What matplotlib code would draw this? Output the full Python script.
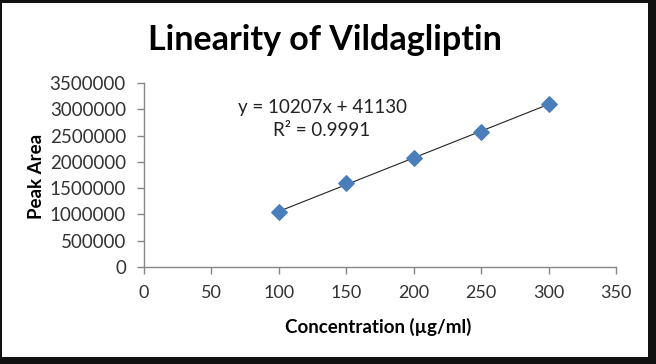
import matplotlib
matplotlib.use("Agg")
import matplotlib.pyplot as plt
import numpy as np
from matplotlib.patches import Rectangle

W, H = 656, 364

concentration = [100, 150, 200, 250, 300]
peak_area = [1040000, 1600000, 2070000, 2570000, 3100000]
x_ticks = [0, 50, 100, 150, 200, 250, 300, 350]
y_ticks = [0, 500000, 1000000, 1500000, 2000000, 2500000, 3000000, 3500000]
equation = "y = 10207x + 41130"
r_squared = "R² = 0.9991"

FONT = "Lato"
AXIS_GRAY = "#868686"
MARKER_BLUE = "#4a7ebb"

fig = plt.figure(figsize=(W / 100, H / 100), dpi=100)
fig.patch.set_facecolor("#111111")
fig.patches.append(Rectangle((2 / W, 7 / H), 646 / W, 354 / H,
                             transform=fig.transFigure, facecolor="white",
                             edgecolor="none", zorder=-5))

ax = fig.add_axes([144 / W, 97 / H, 472 / W, 184 / H])
ax.set_facecolor("none")
ax.set_zorder(2)

ax.scatter(concentration, peak_area, marker="D", s=62, color=MARKER_BLUE,
           edgecolors=MARKER_BLUE, zorder=3)

# linear trendline over the measured range
slope, intercept = np.polyfit(concentration, peak_area, 1)
xs = np.array([concentration[0], concentration[-1]])
ax.plot(xs, slope * xs + intercept, color="#222222", linewidth=0.8, zorder=2)

ax.set_xlim(0, 350)
ax.set_ylim(0, 3500000)
ax.set_xticks(x_ticks)
ax.set_yticks(y_ticks)
ax.set_xticklabels([str(v) for v in x_ticks], fontfamily=FONT, fontsize=13,
                   color="#333333")
ax.set_yticklabels([str(v) for v in y_ticks], fontfamily=FONT, fontsize=13.5,
                   color="#333333")

for side in ("top", "right"):
    ax.spines[side].set_visible(False)
for side in ("left", "bottom"):
    ax.spines[side].set_color(AXIS_GRAY)
    ax.spines[side].set_linewidth(1.0)
ax.tick_params(axis="both", direction="out", length=5, width=1.0,
               color=AXIS_GRAY)
ax.tick_params(axis="x", pad=8)
ax.tick_params(axis="y", pad=8)

fig.text(378 / W, 1 - 327 / H, "Concentration (µg/ml)", fontfamily=FONT,
         fontsize=13.5, fontweight="bold", ha="center", va="center", zorder=3)
fig.text(36 / W, 1 - 176 / H, "Peak Area", fontfamily=FONT, rotation=90,
         fontsize=13.5, fontweight="bold", ha="center", va="center", zorder=3)

fig.text(325 / W, 1 - 40 / H, "Linearity of Vildagliptin", fontfamily=FONT,
         fontsize=24.5, fontweight="bold", ha="center", va="center", zorder=3)

fig.text(238 / W, 1 - 107 / H, equation, fontfamily=FONT,
         fontsize=13.5, ha="left", va="center", color="#222222", zorder=3)
fig.text(273 / W, 1 - 130 / H, r_squared, fontfamily=FONT,
         fontsize=13.5, ha="left", va="center", color="#222222", zorder=3)

fig.savefig("out.png", dpi=100)
